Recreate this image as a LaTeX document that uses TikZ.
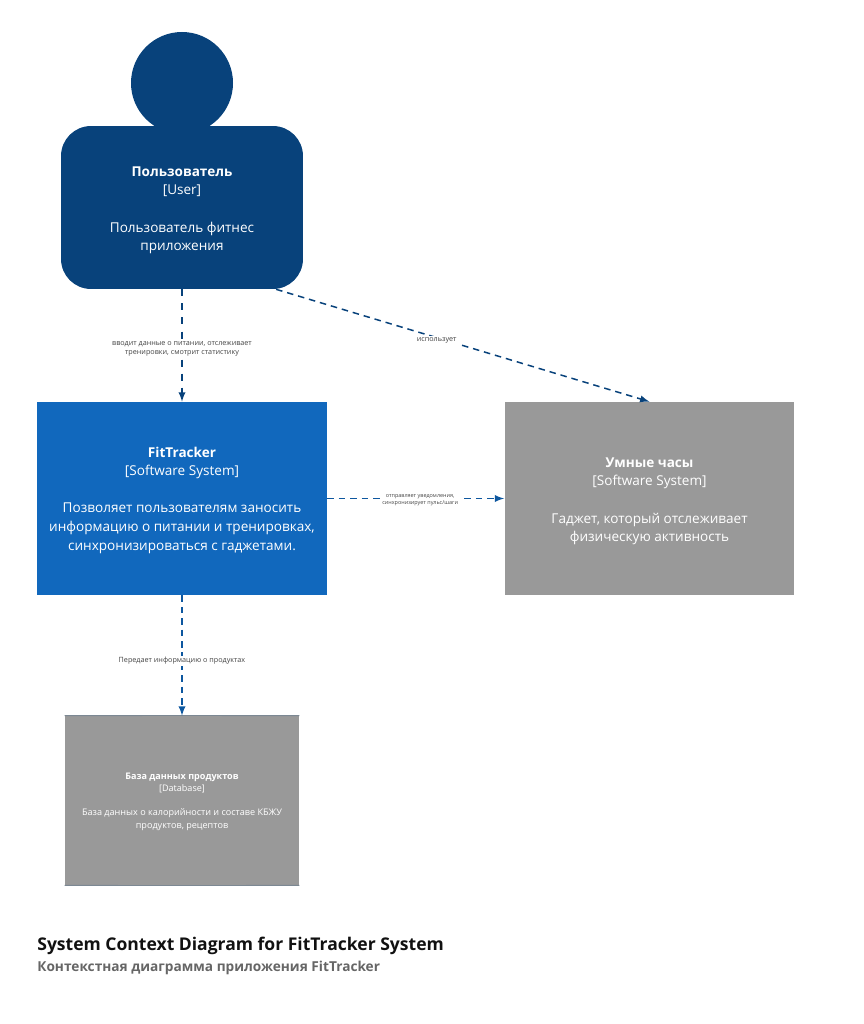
\documentclass[tikz,border=0pt]{standalone}
\usepackage{fontspec}
\setmainfont{Open Sans}
\usetikzlibrary{positioning}
\usetikzlibrary{arrows}
\definecolor{usercolor}{HTML}{08427B}
\definecolor{systemcolor}{HTML}{1168BD}
\definecolor{externalcolor}{HTML}{999999}
\definecolor{labelcolor}{HTML}{444444}
\definecolor{titlecolor}{HTML}{111111}
\definecolor{subtitlecolor}{HTML}{666666}
\colorlet{systemlink}{systemcolor!55!usercolor}
\colorlet{dbedge}{usercolor!20!externalcolor}
\newcommand{\boxfont}{\fontsize{7.72}{10.6}\selectfont}
\newcommand{\dbfont}{\fontsize{5.16}{7}\selectfont}
\newcommand{\linkfont}{\fontsize{4.1}{5.6}\selectfont}
\newcommand{\smalllinkfont}{\fontsize{3.1}{4}\selectfont}
\newcommand{\boxpad}{\rule{0pt}{7.7pt}}
\newcommand{\tallpad}{\rule{0pt}{8.8pt}}
\newcommand{\dbpad}{\rule{0pt}{4.8pt}}
\tikzset{
  personbox/.style={fill=usercolor,text=white,rounded corners=0.6cm,minimum width=4.84cm,minimum height=3.26cm,align=center,font=\boxfont},
  softbox/.style={text=white,minimum width=5.8cm,minimum height=3.86cm,align=center,font=\boxfont},
  dbbox/.style={fill=externalcolor,text=white,minimum width=4.68cm,minimum height=3.38cm,align=center,font=\dbfont},
  link/.style={dash pattern=on 3.7pt off 2.8pt,line width=0.85pt,-latex},
  linklabel/.style={fill=white,text=labelcolor,align=center,inner sep=1pt,font=\linkfont},
}
\begin{document}
\begin{tikzpicture}[x=0.02cm,y=-0.02cm]
\useasboundingbox (0,0) rectangle (863,1024);
\fill[usercolor] (182,83) circle (51);
\node[personbox] (user) at (182,207.5) {\tallpad\textbf{Пользователь}\\{}[User]\\[10.6pt]Пользователь фитнес\\приложения};
\node[softbox,fill=systemcolor] (fittracker) at (182,498.5) {\boxpad\textbf{FitTracker}\\{}[Software System]\\[10.6pt]Позволяет пользователям заносить\\информацию о питании и тренировках,\\синхронизироваться с гаджетами.};
\node[softbox,fill=externalcolor] (watch) at (649.5,498.5) {\tallpad\textbf{Умные часы}\\{}[Software System]\\[10.6pt]Гаджет, который отслеживает\\физическую активность};
\node[dbbox] (database) at (182,800.5) {\dbpad\textbf{База данных продуктов}\\{}[Database]\\[7pt]База данных о калорийности и составе КБЖУ\\продуктов, рецептов};
\draw[dbedge,line width=0.5pt] (database.north west) .. controls (120,715.5) and (244,715.5) .. (database.north east);
\draw[dbedge,line width=0.5pt] (database.south west) .. controls (120,885.5) and (244,885.5) .. (database.south east);

\draw[link,usercolor,dash pattern=on 4pt off 4pt] (user.south) -- node[linklabel,pos=0.53] {вводит данные о питании, отслеживает\\тренировки, смотрит статистику} (fittracker.north);
\draw[link,usercolor] (user.-41.4) -- node[linklabel,pos=0.43,yshift=-1.5pt] {использует} (watch.north);
\draw[link,systemlink] (fittracker.east) -- node[linklabel,pos=0.525,yshift=-1pt,font=\smalllinkfont] {отправляет уведомления,\\синхронизирует пульс/шаги} (watch.west);
\draw[link,systemlink] (fittracker.south) -- node[linklabel,pos=0.53,yshift=-1pt] {Передает информацию о продуктах} (database.north);

\node[anchor=west,inner sep=0pt,text=titlecolor,font=\fontsize{9.98}{12}\selectfont\bfseries] (title) at (37,945.5) {System Context Diagram for FitTracker System};
\node[anchor=west,inner sep=0pt,text=subtitlecolor,font=\fontsize{7.78}{9}\selectfont\bfseries] (subtitle) at (37,967.5) {Контекстная диаграмма приложения FitTracker};
\end{tikzpicture}
\end{document}
